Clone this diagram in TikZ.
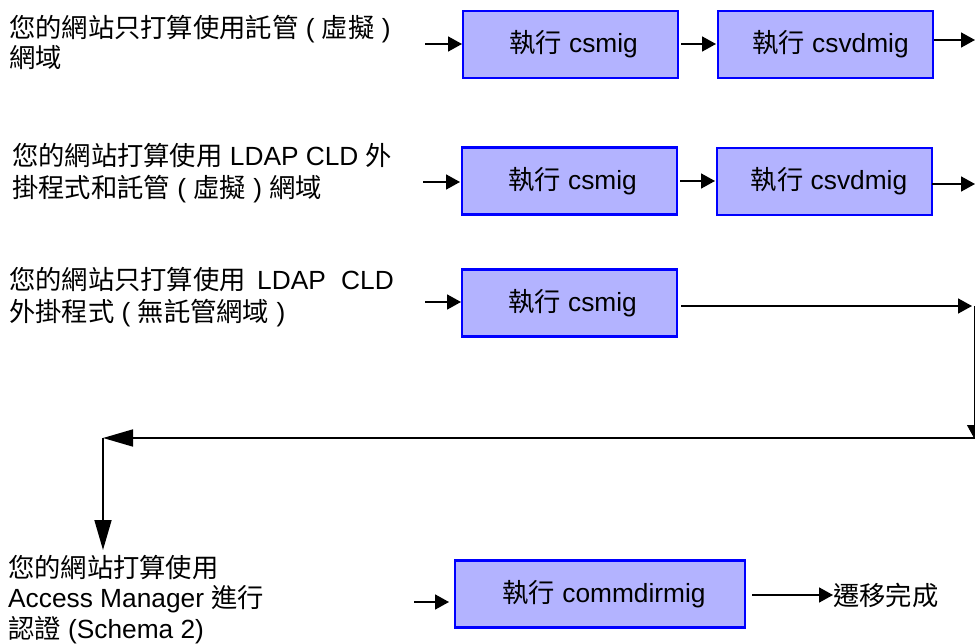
\documentclass[tikz,border=0pt]{standalone}
\usepackage{fontspec}
\setmainfont{Liberation Sans}
\newfontfamily\cjk{Noto Sans CJK TC}
\newcommand{\zh}[1]{{\cjk #1}}
\newcommand{\lead}[2]{\hspace*{#1pt}\raisebox{-1.5pt}{#2}}
\usetikzlibrary{arrows.meta}
\definecolor{boxfill}{RGB}{179,179,255}
\definecolor{boxline}{RGB}{0,0,255}
\tikzset{
  x=1pt,y=-1pt,
  flowbox/.style={draw=boxline,fill=boxfill,line width=2.2pt,minimum height=67pt,inner sep=0pt,font=\fontsize{26.3}{30}\selectfont},
  desc/.style={anchor=north west,align=left,inner sep=0pt,font=\fontsize{26.3}{30}\selectfont},
  conn/.style={line width=1.7pt,-{Triangle[length=14pt,width=15pt]}},
  bigconn/.style={line width=1.7pt,-{Triangle[length=30pt,width=17pt]}},
}
\begin{document}
\begin{tikzpicture}
\useasboundingbox (0,0) rectangle (975,644);
% descriptions
\node[desc] (d1) at (9,15) {\zh{您的網站只打算使用託管} ( \zh{虛擬} )\\[0pt]\zh{網域}};
\node[desc] (d2) at (12,143) {\zh{您的網站打算使用} LDAP CLD \zh{外}\\[2pt]\zh{掛程式和託管} ( \zh{虛擬} ) \zh{網域}};
\node[desc] (d3) at (9,267) {\zh{您的網站只打算使用}\hspace{4pt} LDAP\hspace{8pt} CLD\\[2pt]\zh{外掛程式} ( \zh{無託管網域} )};
\node[desc] (d4) at (8,555) {\zh{您的網站打算使用}\\[0.5pt]Access Manager \zh{進行}\\[0.5pt]\zh{認證} (Schema 2)};
% boxes
\node[flowbox,minimum width=215pt] (a1) at (570.5,44.5) {\lead{6}{\zh{執行} csmig}};
\node[flowbox,minimum width=215pt] (a2) at (825.5,44.5) {\lead{10}{\zh{執行} csvdmig}};
\node[flowbox,minimum width=215pt] (b1) at (569.5,181) {\lead{6}{\zh{執行} csmig}};
\node[flowbox,minimum width=215pt] (b2) at (824.5,181.5) {\lead{9}{\zh{執行} csvdmig}};
\node[flowbox,minimum width=215pt] (c1) at (569.5,303) {\lead{6}{\zh{執行} csmig}};
\node[flowbox,minimum width=290pt] (e1) at (600,594) {\lead{8}{\zh{執行} commdirmig}};
\node[desc,anchor=west] (done) at (833,595) {\zh{遷移完成}};
% free ends
\coordinate (a0) at (425,44);
\coordinate (a1i) at (462,44);
\coordinate (a1o) at (681,44);
\coordinate (a2i) at (716,44);
\coordinate (a2o) at (934,40);
\coordinate (a3) at (975,40);
\coordinate (b0) at (423,182);
\coordinate (b1i) at (460,182);
\coordinate (b1o) at (680,181);
\coordinate (b2i) at (715,181);
\coordinate (b2o) at (932,184);
\coordinate (b3) at (975,184);
\coordinate (c0) at (425,302);
\coordinate (c1i) at (461,302);
\coordinate (c1o) at (681,306);
\coordinate (c3) at (972,306);
\coordinate (v0) at (974,306);
\coordinate (v1) at (974,438);
\coordinate (h0) at (975,438);
\coordinate (h1) at (103,438);
\coordinate (v2) at (103,550);
\coordinate (e0) at (414,602);
\coordinate (e1i) at (449,602);
\coordinate (e1o) at (752,595);
% connectors
\draw[conn] (a0) -- (a1i);
\draw[conn] (a1o) -- (a2i);
\draw[conn] (a2o) -- (a3);
\draw[conn] (b0) -- (b1i);
\draw[conn] (b1o) -- (b2i);
\draw[conn] (b2o) -- (b3);
\draw[conn] (c0) -- (c1i);
\draw[conn] (c1o) -- (c3);
\draw[line width=0.9pt,-{Triangle[length=13pt,width=14pt]}] (v0) -- (v1);
\draw[bigconn] (h0) -- (h1);
\draw[bigconn] (h1) -- (v2);
\draw[conn] (e0) -- (e1i);
\draw[conn] (e1o) -- (done.west);
\end{tikzpicture}
\end{document}
